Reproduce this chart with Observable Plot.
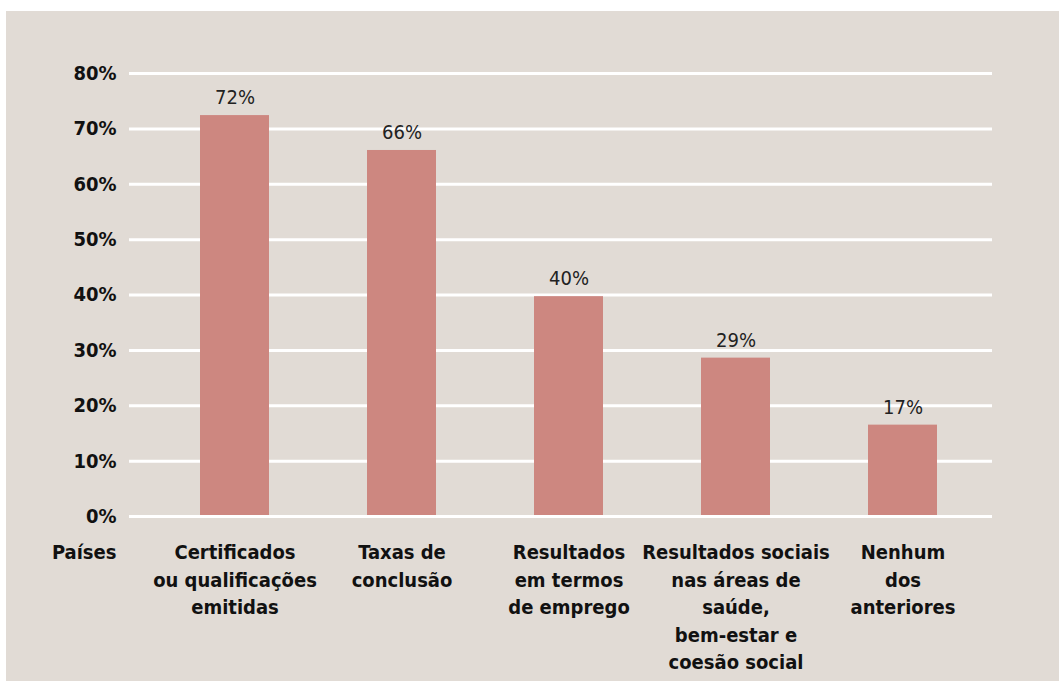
<!DOCTYPE html>
<html>
<head>
<meta charset="utf-8">
<script src="https://cdn.jsdelivr.net/npm/d3@7"></script>
<script src="https://cdn.jsdelivr.net/npm/@observablehq/plot@0.6"></script>
<style>
  html, body { margin: 0; padding: 0; background: #ffffff; }
  #panel { position: absolute; left: 6px; top: 11px; width: 1053px; height: 670px; background: #e1dbd5; }
  #panel svg { display: block; font-stretch: condensed; }
</style>
</head>
<body>
<div id="panel"></div>
<script>
const categories = [
  "Certificados\nou qualificações\nemitidas",
  "Taxas de\nconclusão",
  "Resultados\nem termos\nde emprego",
  "Resultados sociais\nnas áreas de\nsaúde,\nbem-estar e\ncoesão social",
  "Nenhum\ndos\nanteriores"
];
const values = [72.4, 66.1, 39.7, 28.6, 16.5];
const valueLabels = ["72%", "66%", "40%", "29%", "17%"];
const yTicks = [0, 10, 20, 30, 40, 50, 60, 70, 80];
const rowLabel = "Países";

const data = categories.map((c, i) => ({cat: c, value: values[i], label: valueLabels[i]}));
const font = "'DejaVu Sans Condensed', 'Liberation Sans Narrow', sans-serif";

const chart = Plot.plot({
  width: 1053,
  height: 670,
  marginLeft: 123,
  marginRight: 67,
  marginTop: 62,
  marginBottom: 165,
  style: {background: "transparent", fontFamily: font, color: "#111"},
  x: {domain: categories, range: [143.75, 981.25], paddingInner: 0.588, paddingOuter: 0.294, align: 0.5, axis: null},
  y: {domain: [0, 80], ticks: yTicks, axis: null},
  marks: [
    Plot.ruleY(yTicks, {stroke: "#ffffff", strokeWidth: 3}),
    Plot.barY(data, {x: "cat", y: "value", fill: "#cd8780"}),
    Plot.ruleY([0], {stroke: "#ffffff", strokeWidth: 3}),
    Plot.axisY({ticks: yTicks, tickSize: 0, tickPadding: 13, tickFormat: d => d + "%", fontSize: 20, fontWeight: "bold", fill: "#111", label: null}),
    Plot.text(data, {x: "cat", y: "value", text: "label", dy: -18, fontSize: 20, fill: "#222", fontWeight: "normal"}),
    Plot.text(data, {x: "cat", y: 0, text: "cat", lineAnchor: "top", dy: 23, lineHeight: 1.38, fontSize: 20, fontWeight: "bold", fill: "#111"}),
    Plot.text([rowLabel], {frameAnchor: "bottom-left", text: d => d, textAnchor: "end", lineAnchor: "top", dx: -13, dy: 28, fontSize: 20, fontWeight: "bold", fill: "#111"})
  ]
});
document.getElementById("panel").appendChild(chart);
</script>
</body>
</html>
